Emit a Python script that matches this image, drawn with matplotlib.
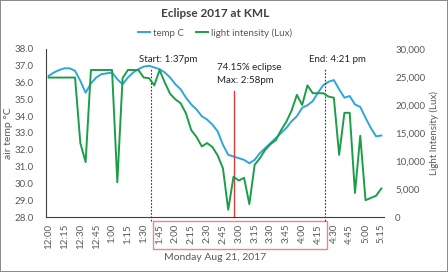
import matplotlib
matplotlib.use('Agg')
import matplotlib.pyplot as plt
import matplotlib.transforms as mtransforms
from matplotlib.patches import Rectangle

plt.rcParams['font.family'] = ['Lato', 'DejaVu Sans']

# data: readings every 5 minutes from 12:00 to 5:15 pm
minutes = list(range(0, 320, 5))
temp_c = [36.4, 36.6, 36.75, 36.85, 36.85, 36.7, 36.1, 35.4, 35.95, 36.3,
          36.5, 36.55, 36.6, 36.2, 35.9, 36.3, 36.6, 36.8, 36.95, 37.0,
          36.9, 36.8, 36.6, 36.3, 35.9, 35.6, 35.1, 34.7, 34.4, 34.0,
          33.8, 33.5, 33.1, 32.3, 31.7, 31.6, 31.5, 31.4, 31.2, 31.4,
          31.8, 32.1, 32.4, 32.7, 33.0, 33.3, 33.7, 34.0, 34.5, 34.65,
          34.9, 35.4, 35.85, 36.05, 36.15, 35.6, 35.1, 35.2, 34.7, 34.55,
          33.9, 33.3, 32.8, 32.85]
lux = [24900, 24900, 24900, 24900, 24900, 24900, 13200, 9800, 26250, 26250,
       26250, 26250, 26250, 6200, 24800, 26250, 26250, 26250, 24900, 24800,
       23500, 26250, 24000, 22000, 21000, 20300, 18500, 15500, 14300, 12600,
       13200, 12500, 11000, 8700, 1300, 7200, 6500, 7000, 2300, 9300,
       10500, 12000, 13000, 13700, 15500, 17000, 19000, 21800, 20000, 23500,
       22100, 22100, 22100, 21500, 21300, 11100, 18600, 18600, 4300, 14500,
       3000, 3400, 3800, 5100]
tick_labels = ['12:00', '12:15', '12:30', '12:45', '1:00', '1:15', '1:30',
               '1:45', '2:00', '2:15', '2:30', '2:45', '3:00', '3:15', '3:30',
               '3:45', '4:00', '4:15', '4:30', '4:45', '5:00', '5:15']
start_min = 97    # 1:37
max_min = 175     # 2:58 marker as drawn
end_min = 262     # 4:21

grey = '#595959'
blue = '#2EA6DA'
green = '#1C9E48'

fig = plt.figure(figsize=(4.48, 2.72), dpi=100)
fig.patch.set_edgecolor('#8c8c8c')
fig.patch.set_linewidth(1.2)
ax = fig.add_axes([0.1027, 0.2022, 0.7545, 0.6177])
ax2 = ax.twinx()

l1, = ax.plot(minutes, temp_c, color=blue, lw=1.4, label='temp C')
l2, = ax2.plot(minutes, lux, color=green, lw=1.4, label='light intensity (Lux)')

ax.set_xlim(-2.5, 317.5)
ax.set_ylim(28, 38)
ax.set_yticks([28 + i for i in range(11)])
ax.set_yticklabels(['%.1f' % (28 + i) for i in range(11)])
ax2.set_ylim(0, 30000)
ax2.set_yticks([0, 5000, 10000, 15000, 20000, 25000, 30000])
ax2.set_yticklabels(['0', '5,000', '10,000', '15,000', '20,000', '25,000', '30,000'])
ax.set_xticks(list(range(0, 316, 15)))
ax.set_xticklabels(tick_labels, rotation=90)

for a in (ax, ax2):
    for s in ('top', 'right', 'left', 'bottom'):
        a.spines[s].set_visible(False)
ax.spines['left'].set_visible(True)
ax.spines['bottom'].set_visible(True)
ax.spines['left'].set_color('#404040')
ax.spines['bottom'].set_color('#404040')
ax.tick_params(axis='both', length=0, labelsize=7, labelcolor=grey)
ax.tick_params(axis='y', pad=9)
ax.tick_params(axis='x', pad=5)
ax2.tick_params(axis='y', length=0, labelsize=7, labelcolor=grey, pad=8)

ax.set_ylabel('air temp °C', fontsize=7.5, color=grey, labelpad=1)
ax2.set_ylabel('Light Intensity (Lux)', fontsize=7, color=grey, labelpad=3)
ax.set_xlabel('Monday Aug 21, 2017', fontsize=7.5, color=grey, labelpad=3)

# eclipse markers
trans = mtransforms.blended_transform_factory(ax.transData, ax.transAxes)
ax.plot([start_min, start_min], [-0.024, 0.887], transform=trans, color='#333333',
        lw=0.8, ls=(0, (1.5, 1.5)), clip_on=False)
ax.plot([end_min, end_min], [-0.024, 0.887], transform=trans, color='#333333',
        lw=0.8, ls=(0, (1.5, 1.5)), clip_on=False)
ax.plot([max_min, max_min], [0.0, 0.75], transform=trans, color='#E03A3A',
        lw=1.0, clip_on=False)
ax.add_patch(Rectangle((start_min + 1.5, -0.19), end_min - start_min, 0.166,
                       transform=trans, fill=False, edgecolor='#E8868A',
                       lw=1.0, clip_on=False))

ax.text(85.5, 0.94, 'Start: 1:37pm', transform=trans, fontsize=7, color='#222222',
        va='center', ha='left')
ax.text(246.7, 0.94, 'End: 4:21 pm', transform=trans, fontsize=7, color='#222222',
        va='center', ha='left')
ax.text(159.5, 0.887, '74.15% eclipse', transform=trans, fontsize=7, color='#222222',
        va='center', ha='left')
ax.text(159.5, 0.815, 'Max: 2:58pm', transform=trans, fontsize=7, color='#222222',
        va='center', ha='left')

fig.text(0.48, 0.952, 'Eclipse 2017 at KML', ha='center', va='center',
         fontsize=8.5, fontweight='bold', color='#404040')
fig.legend([l1, l2], ['temp C', 'light intensity (Lux)'], loc='center',
           bbox_to_anchor=(0.48, 0.879), ncol=2, frameon=False, fontsize=7,
           handlelength=1.3, handletextpad=0.3, columnspacing=1.2,
           labelcolor=grey)

fig.savefig('out.png', dpi=100, edgecolor=fig.get_edgecolor())
